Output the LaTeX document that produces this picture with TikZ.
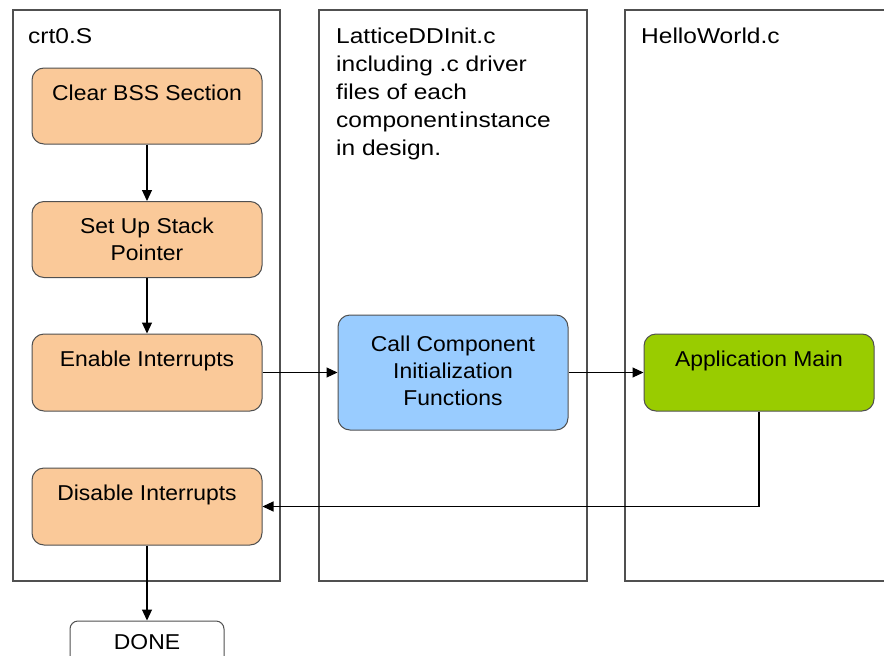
\documentclass[tikz,border=0pt]{standalone}
\usepackage{fontspec}
\setmainfont{Liberation Sans}[FakeStretch=1.065]
\newfontfamily\lanefont{Liberation Sans}[FakeStretch=1.14]
\usetikzlibrary{arrows.meta}
\definecolor{peach}{RGB}{250,201,153}
\definecolor{skyb}{RGB}{153,204,255}
\definecolor{leaf}{RGB}{153,204,0}
\definecolor{edgegray}{RGB}{80,80,80}
\begin{document}
\begin{tikzpicture}[x=1pt,y=-1pt,
  lane/.style={draw=edgegray,line width=1.2pt},
  stepbox/.style={draw=edgegray,line width=1pt,rounded corners=12pt,minimum width=230pt,align=center,inner sep=0pt},
  lanelabel/.style={anchor=base west,inner sep=0pt,font=\lanefont\fontsize{21.5}{27}\selectfont},
  conn/.style={draw=black,line width=1.1pt,-{Triangle[length=11pt,width=10pt]}},
  txt/.style={font=\fontsize{21.5}{27}\selectfont}]
\useasboundingbox (0,0) rectangle (884,656);
\clip (0,0) rectangle (884,656);
\fill[white] (0,0) rectangle (884,656);
% lanes
\draw[lane] (13,10) rectangle (280,581);
\draw[lane] (319,10) rectangle (587,581);
\draw[lane] (625,10) rectangle (900,581);
% lane labels
\node[lanelabel] (l1) at (28,43) {crt0.S};
\node[lanelabel] (l2a) at (336,43) {LatticeDDInit.c};
\node[lanelabel] (l2b) at (336,71) {including .c driver};
\node[lanelabel] (l2c) at (336,99) {files of each};
\node[lanelabel] (l2d) at (336,127) {component\hspace{2pt}instance};
\node[lanelabel] (l2e) at (336,155) {in design.};
\node[lanelabel] (l3) at (641,43) {HelloWorld.c};
% boxes
\node[stepbox,txt,fill=peach,minimum height=76pt] (bss) at (147,106) {Clear BSS Section\\\mbox{}};
\node[stepbox,txt,fill=peach,minimum height=76pt] (stack) at (147,239.5) {\raisebox{1.5pt}{Set Up Stack}\\\raisebox{1.5pt}{Pointer}};
\node[stepbox,txt,fill=peach,minimum height=77pt] (en) at (147,372.5) {Enable Interrupts\\\mbox{}};
\node[stepbox,txt,fill=peach,minimum height=77pt] (dis) at (147,506.5) {Disable Interrupts\\\mbox{}};
\node[stepbox,txt,fill=skyb,minimum height=115pt] (call) at (453,372.5) {\raisebox{4pt}{Call Component}\\\raisebox{4pt}{Initialization}\\\raisebox{4pt}{Functions}};
\node[stepbox,txt,fill=leaf,minimum height=77pt] (app) at (759,372.5) {Application Main\\\mbox{}};
\node[draw=edgegray,line width=1pt,rounded corners=8pt,minimum width=154pt,minimum height=50pt,fill=white,txt,inner sep=0pt] (done) at (147,646) {};
\node[txt,anchor=base,inner sep=0pt] (donet) at (147,649) {DONE};
% connectors
\draw[conn] (bss) -- (stack);
\draw[conn] (stack) -- (en);
\draw[conn] (en) -- (call);
\draw[conn] (call) -- (app);
\draw[conn] (app.south) |- (dis.east);
\draw[conn] (dis) -- (done.north);
\end{tikzpicture}
\end{document}
